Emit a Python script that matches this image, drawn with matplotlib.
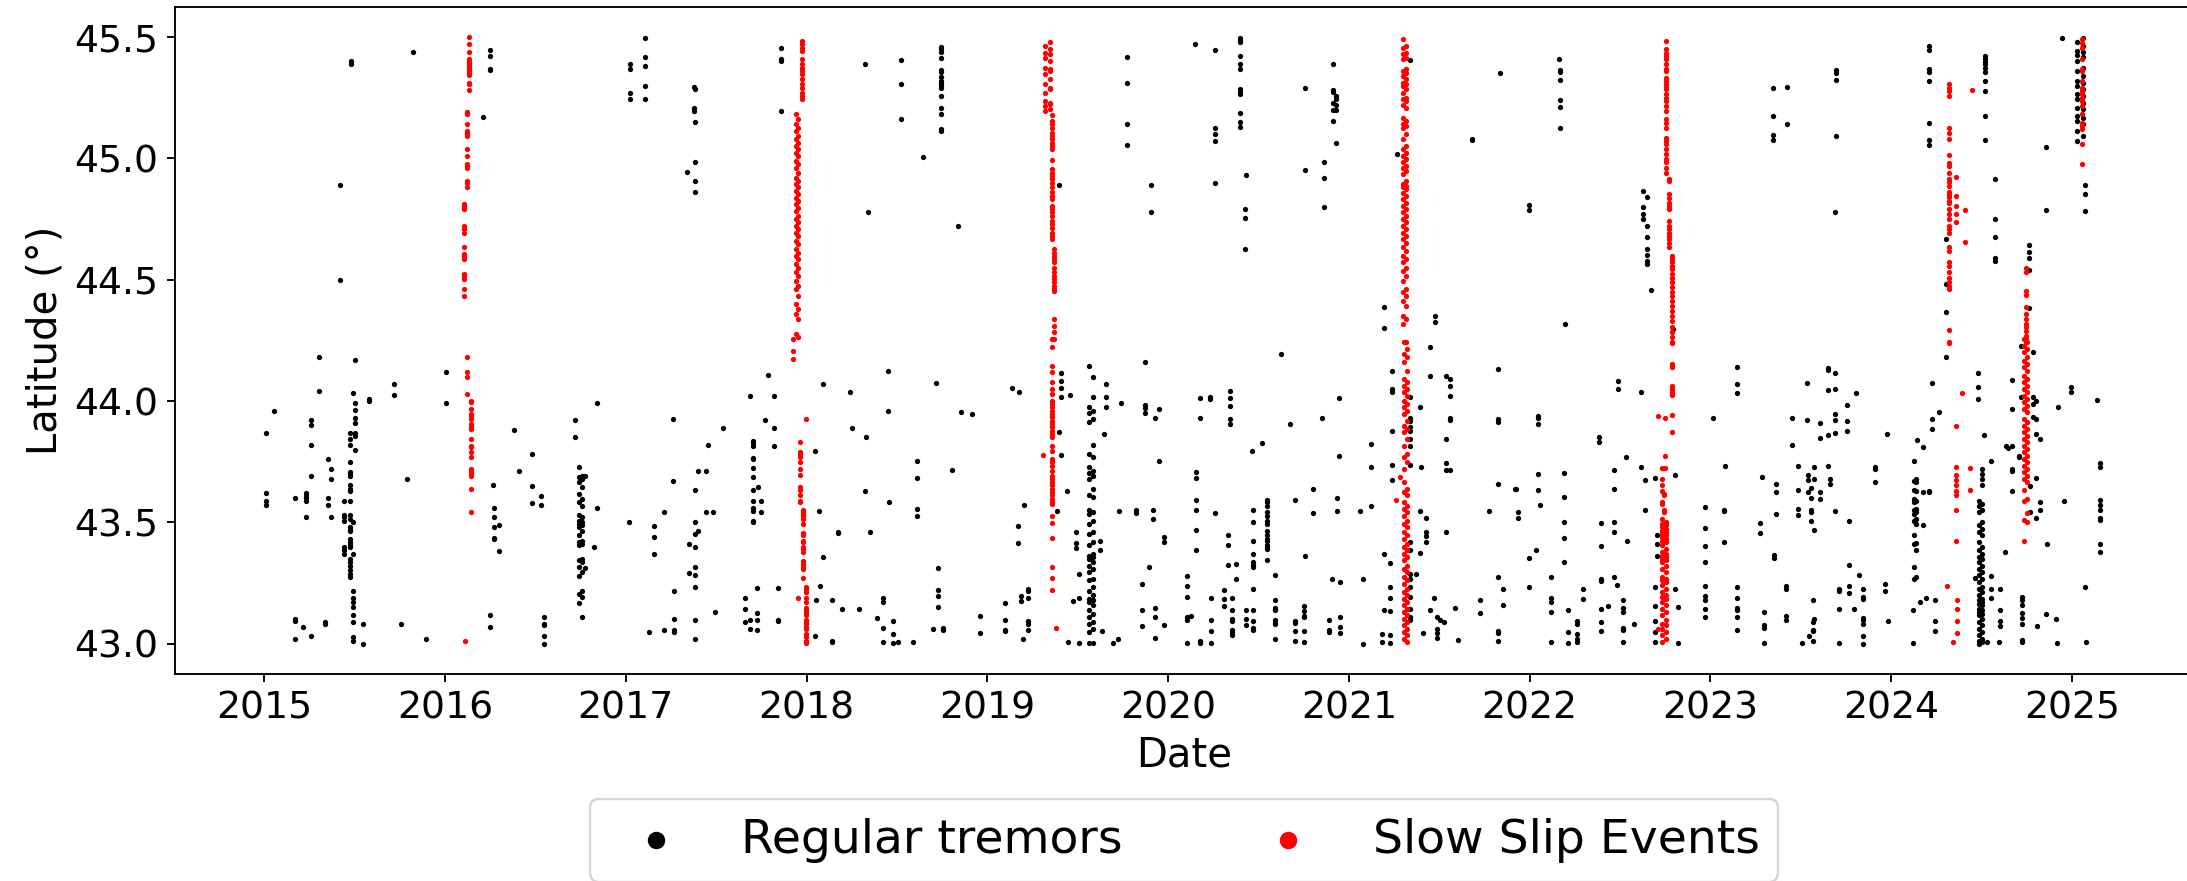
import numpy as np
import matplotlib.pyplot as plt

# tremor catalogue: (decimal year, [latitudes]) per column of events
tremor_2015 = [
    (2015.01, [43.87, 43.62, 43.59, 43.57]),
    (2015.055, [43.96]),
    (2015.17, [43.60, 43.10, 43.095, 43.02]),
    (2015.215, [43.07]),
    (2015.23, [43.62, 43.61, 43.60, 43.59, 43.52]),
    (2015.26, [43.92, 43.90, 43.82, 43.69, 43.03]),
    (2015.30, [44.18, 44.04]),
    (2015.335, [43.09, 43.08]),
    (2015.355, [43.76, 43.60, 43.57]),
    (2015.37, [43.72, 43.68, 43.52]),
    (2015.42, [44.89, 44.50]),
    (2015.44, [43.59, 43.532, 43.521, 43.507, 43.398, 43.384, 43.37]),
    (2015.475, [43.868, 43.844, 43.819, 43.75, 43.706, 43.70, 43.693, 43.652, 43.638, 43.631, 43.59,
                43.532, 43.514, 43.48, 43.473, 43.466, 43.432, 43.418, 43.405, 43.398, 43.35, 43.336,
                43.322, 43.302, 43.288, 43.274]),
    (2015.48, [45.40, 45.39]),
    (2015.49, [44.032, 43.503, 43.37, 43.217, 43.19, 43.17, 43.15, 43.119, 43.089, 43.027, 43.013]),
    (2015.50, [44.168, 43.991, 43.963, 43.93, 43.908, 43.867, 43.857, 43.80]),
    (2015.545, [43.08, 43.0]),
    (2015.577, [44.008, 43.998]),
    (2015.717, [44.07, 44.026]),
    (2015.754, [43.08]),
    (2015.79, [43.68]),
    (2015.82, [45.44]),
    (2015.893, [43.02]),
]
tremor_2016 = [
    (2016.007, [44.12, 43.99]),
    (2016.21, [45.17]),
    (2016.25, [45.445, 45.42, 45.37, 45.365, 43.12, 43.07]),
    (2016.265, [43.655]),
    (2016.27, [43.56, 43.52, 43.48, 43.435, 43.43]),
    (2016.30, [43.49, 43.38]),
    (2016.384, [43.88]),
    (2016.41, [43.71]),
    (2016.48, [43.78, 43.65, 43.58]),
    (2016.53, [43.61, 43.57]),
    (2016.548, [43.11, 43.08, 43.075, 43.03, 43.0]),
    (2016.72, [43.92, 43.85]),
    (2016.74, [43.73, 43.686, 43.665, 43.617, 43.583, 43.531, 43.507, 43.494, 43.48, 43.446, 43.418,
               43.405, 43.343, 43.315, 43.278, 43.206, 43.167]),
    (2016.755, [43.693, 43.679, 43.645, 43.597, 43.569, 43.521, 43.501, 43.487, 43.466, 43.425,
                43.411, 43.35, 43.336, 43.295, 43.217, 43.192, 43.108]),
    (2016.775, [43.69, 43.31]),
    (2016.826, [43.40]),
    (2016.843, [43.99, 43.56]),
]
tremor_2017 = [
    (2017.02, [43.50]),
    (2017.025, [45.387, 45.367, 45.271, 45.246]),
    (2017.107, [45.497, 45.418, 45.381, 45.297, 45.246]),
    (2017.129, [43.05]),
    (2017.155, [43.484, 43.438, 43.368]),
    (2017.214, [43.542, 43.055]),
    (2017.26, [43.925, 43.67]),
    (2017.267, [43.219, 43.10, 43.055, 43.048]),
    (2017.337, [44.944]),
    (2017.352, [43.41, 43.291]),
    (2017.375, [45.295, 45.209, 45.195]),
    (2017.383, [45.284, 45.15, 44.985, 44.907, 44.862]),
    (2017.38, [43.635, 43.503, 43.45, 43.398, 43.317, 43.284, 43.233, 43.099, 43.018]),
    (2017.402, [43.711, 43.466]),
    (2017.446, [43.711, 43.542]),
    (2017.455, [43.82]),
    (2017.48, [43.542]),
    (2017.494, [43.132]),
    (2017.54, [43.889]),
    (2017.658, [43.189, 43.144, 43.09]),
    (2017.686, [44.021, 43.099, 43.062]),
    (2017.706, [43.837, 43.827, 43.814, 43.766, 43.759, 43.724, 43.687, 43.634, 43.586, 43.558,
                43.545, 43.507, 43.501]),
    (2017.726, [43.23, 43.127, 43.099, 43.055]),
    (2017.734, [43.646]),
    (2017.75, [43.587, 43.542]),
    (2017.77, [43.921]),
    (2017.789, [44.107]),
    (2017.82, [44.021, 43.889, 43.815]),
    (2017.843, [43.23, 43.099, 43.092]),
    (2017.859, [45.455, 45.411, 45.40, 45.195]),
]
tremor_2018 = [
    (2018.044, [43.793, 43.033]),
    (2018.053, [43.182]),
    (2018.066, [43.545]),
    (2018.075, [43.237]),
    (2018.093, [44.069, 43.358]),
    (2018.14, [43.182, 43.013, 43.007]),
    (2018.176, [43.462, 43.455]),
    (2018.198, [43.144]),
    (2018.242, [44.037]),
    (2018.25, [43.888]),
    (2018.29, [43.141]),
    (2018.321, [45.387]),
    (2018.323, [43.63]),
    (2018.331, [43.851]),
    (2018.338, [44.779]),
    (2018.351, [43.46]),
    (2018.388, [43.105]),
    (2018.423, [43.188, 43.171, 43.064, 43.005]),
    (2018.45, [44.122, 43.959]),
    (2018.454, [43.584]),
    (2018.478, [43.092, 43.041, 43.001]),
    (2018.505, [43.005]),
    (2018.521, [45.407, 45.308, 45.161]),
    (2018.589, [43.008]),
    (2018.613, [43.752, 43.681, 43.553, 43.528]),
    (2018.646, [45.007]),
    (2018.70, [43.059]),
    (2018.716, [44.073]),
    (2018.725, [43.313, 43.221, 43.196, 43.151]),
    (2018.744, [45.459, 45.449, 45.438, 45.413, 45.364, 45.356, 45.335, 45.319, 45.312, 45.301,
                45.291, 45.257, 45.209, 45.184, 45.12, 45.113]),
    (2018.753, [43.066, 43.055]),
    (2018.805, [43.716]),
    (2018.84, [44.722]),
    (2018.856, [43.954]),
    (2018.917, [43.948]),
    (2018.958, [43.115, 43.044]),
]
tremor_2019 = [
    (2019.096, [43.167, 43.099, 43.057, 43.051]),
    (2019.135, [44.054]),
    (2019.172, [43.483, 43.416]),
    (2019.175, [44.037]),
    (2019.186, [43.197, 43.176]),
    (2019.197, [43.018]),
    (2019.205, [43.573]),
    (2019.223, [43.226, 43.217, 43.189, 43.092, 43.081, 43.055]),
    (2019.384, [43.545]),
    (2019.395, [43.871]),
    (2019.397, [44.889]),
    (2019.406, [44.116, 44.084, 44.054, 44.015, 43.779]),
    (2019.441, [43.63]),
    (2019.445, [43.005]),
    (2019.459, [44.025]),
    (2019.472, [43.174]),
    (2019.49, [43.462, 43.395, 43.414]),
    (2019.507, [43.287, 43.189, 43.002]),
    (2019.56, [44.144, 43.974, 43.951, 43.912, 43.782, 43.727, 43.704, 43.679, 43.611, 43.549, 43.535,
               43.494, 43.453, 43.405, 43.363, 43.35, 43.322, 43.295, 43.261, 43.219, 43.185, 43.171,
               43.137, 43.11, 43.082, 43.048, 43.004]),
    (2019.585, [44.098, 44.018, 43.96, 43.926, 43.819, 43.768, 43.713, 43.693, 43.638, 43.604, 43.542,
                43.507, 43.46, 43.418, 43.37, 43.357, 43.336, 43.309, 43.267, 43.233, 43.199, 43.178,
                43.158, 43.123, 43.089, 43.062, 43.004]),
    (2019.625, [43.425, 43.387]),
    (2019.635, [43.053]),
    (2019.648, [43.863]),
    (2019.655, [44.07, 44.015, 43.977]),
    (2019.694, [43.002]),
    (2019.721, [43.019]),
    (2019.73, [43.547]),
    (2019.742, [43.993]),
    (2019.771, [45.416, 45.312, 45.142, 45.054]),
    (2019.821, [43.55, 43.539]),
    (2019.854, [43.245, 43.137, 43.072]),
    (2019.873, [44.159, 43.984, 43.973, 43.951]),
    (2019.893, [43.318]),
    (2019.908, [44.892, 44.778]),
    (2019.915, [43.551, 43.513]),
    (2019.928, [43.93, 43.149, 43.108, 43.025]),
    (2019.95, [43.966, 43.753]),
    (2019.976, [43.078]),
    (2019.98, [43.44, 43.417]),
]
tremor_2020 = [
    (2020.102, [43.277, 43.237, 43.192, 43.11, 43.096, 43.003]),
    (2020.128, [43.112]),
    (2020.15, [45.47]),
    (2020.155, [43.707, 43.683, 43.594, 43.552, 43.468, 43.386]),
    (2020.179, [44.011, 43.928, 43.01, 43.003]),
    (2020.232, [44.015, 44.008]),
    (2020.235, [43.188, 43.096, 43.051, 43.004]),
    (2020.257, [45.445, 45.127, 45.099, 45.07, 44.898, 43.539]),
    (2020.308, [43.221, 43.185, 43.154]),
    (2020.329, [43.446, 43.405, 43.325]),
    (2020.341, [44.04, 44.011, 43.98, 43.926, 43.906]),
    (2020.356, [43.188, 43.137, 43.1, 43.092, 43.057, 43.048, 43.037]),
    (2020.378, [43.329, 43.265]),
    (2020.399, [45.497, 45.488, 45.479, 45.422, 45.387, 45.367, 45.284, 45.275, 45.267, 45.188,
                45.15, 45.131]),
    (2020.426, [44.792, 44.755, 44.626]),
    (2020.43, [44.93, 43.14, 43.103, 43.078]),
    (2020.463, [43.794]),
    (2020.467, [43.549, 43.501, 43.422, 43.37, 43.336, 43.325, 43.315, 43.226, 43.14, 43.092, 43.064,
                43.055]),
    (2020.519, [43.826]),
    (2020.548, [43.591, 43.583, 43.569, 43.542, 43.528, 43.507, 43.494, 43.466, 43.446, 43.432,
                43.425, 43.405, 43.398, 43.391, 43.343]),
    (2020.589, [43.281, 43.178, 43.147, 43.137, 43.141, 43.096, 43.082, 43.086, 43.018]),
    (2020.622, [44.194]),
    (2020.672, [43.904]),
    (2020.70, [43.594, 43.092, 43.085, 43.051, 43.011]),
    (2020.75, [43.155, 43.133, 43.112, 43.109, 43.051, 43.005]),
    (2020.756, [45.29, 44.951]),
    (2020.76, [43.362]),
    (2020.802, [43.637, 43.539]),
    (2020.852, [43.93]),
    (2020.862, [44.987, 44.921, 44.801]),
    (2020.889, [43.096, 43.057, 43.048]),
    (2020.906, [43.267]),
    (2020.911, [45.39, 45.282, 45.273, 45.227, 45.198, 45.154]),
    (2020.93, [45.257, 45.243, 45.219, 45.198, 45.062]),
    (2020.934, [43.602, 43.547]),
    (2020.948, [44.013, 43.775]),
    (2020.95, [43.254, 43.11, 43.067, 43.042]),
]
tremor_2021 = [
    (2021.063, [43.546]),
    (2021.076, [43.267, 43.0]),
    (2021.12, [43.822, 43.727, 43.569]),
    (2021.186, [43.04, 43.005]),
    (2021.194, [43.37, 43.137]),
    (2021.197, [44.386, 44.299]),
    (2021.227, [43.332, 43.232, 43.189, 43.133, 43.034, 43.003]),
    (2021.236, [44.125, 44.05, 44.036, 43.878, 43.738, 43.675]),
    (2021.265, [45.02]),
    (2021.34, [45.407, 44.015, 43.929, 43.919, 43.892, 43.878, 43.844, 43.816, 43.737, 43.418, 43.384,
               43.288, 43.267, 43.233, 43.192, 43.144, 43.11, 43.099]),
    (2021.374, [43.287]),
    (2021.396, [43.974, 43.545, 43.375]),
    (2021.40, [43.727]),
    (2021.409, [43.044]),
    (2021.428, [43.518, 43.462, 43.442, 43.418]),
    (2021.448, [43.137]),
    (2021.45, [44.221, 44.105]),
    (2021.47, [43.188]),
    (2021.479, [44.349, 44.327]),
    (2021.485, [43.11, 43.062, 43.044, 43.023]),
    (2021.505, [43.096]),
    (2021.524, [43.088]),
    (2021.54, [44.102, 43.844, 43.745, 43.716, 43.462]),
    (2021.562, [44.091, 44.063, 44.02, 43.93, 43.923, 43.716]),
    (2021.585, [43.147]),
    (2021.605, [43.015]),
    (2021.679, [45.081, 45.076]),
    (2021.723, [43.178, 43.126]),
    (2021.776, [43.545]),
    (2021.826, [44.132, 43.926, 43.912, 43.656, 43.274, 43.053, 43.045, 43.012]),
    (2021.835, [45.353]),
    (2021.855, [43.226, 43.158]),
    (2021.917, [43.638]),
    (2021.923, [43.637]),
    (2021.933, [43.542, 43.519]),
    (2021.997, [43.354, 43.233]),
    (2021.999, [44.806, 44.789]),
]
tremor_2022 = [
    (2022.038, [43.387]),
    (2022.045, [43.937, 43.93, 43.906, 43.7, 43.635]),
    (2022.06, [43.571]),
    (2022.12, [43.274, 43.188, 43.171, 43.132, 43.005]),
    (2022.163, [45.411]),
    (2022.167, [45.363, 45.356, 45.322, 45.239, 45.212, 45.125]),
    (2022.19, [43.702, 43.604, 43.5, 43.436, 43.335]),
    (2022.196, [44.318]),
    (2022.215, [43.138, 43.048, 43.004]),
    (2022.26, [43.092, 43.082, 43.038, 43.02, 43.008]),
    (2022.294, [43.225, 43.186]),
    (2022.383, [43.853, 43.833]),
    (2022.394, [43.497, 43.403, 43.267, 43.258, 43.144, 43.09, 43.053]),
    (2022.432, [43.156]),
    (2022.466, [43.716, 43.639, 43.502, 43.461, 43.276]),
    (2022.484, [43.243]),
    (2022.491, [44.081, 44.051]),
    (2022.519, [43.181, 43.149, 43.129, 43.066, 43.057, 43.008]),
    (2022.536, [43.771]),
    (2022.538, [43.425]),
    (2022.578, [43.081]),
    (2022.615, [44.037, 43.727]),
    (2022.63, [44.866, 44.8, 44.77, 44.752]),
    (2022.639, [43.676, 43.549]),
    (2022.65, [44.84, 44.722, 44.675, 44.626, 44.601, 44.578, 44.563]),
    (2022.674, [44.457]),
    (2022.695, [43.682, 43.232, 43.156, 43.095, 43.05, 43.005]),
    (2022.705, [43.446, 43.409, 43.361]),
    (2022.792, [44.296]),
    (2022.803, [43.694, 43.225]),
    (2022.82, [43.152, 43.002]),
    (2022.969, [43.562, 43.475, 43.403, 43.336, 43.239, 43.195, 43.178, 43.144, 43.108]),
]
tremor_2023 = [
    (2023.013, [43.928]),
    (2023.074, [43.551, 43.545, 43.418]),
    (2023.081, [43.733]),
    (2023.15, [44.142, 44.07, 44.032, 43.232, 43.188, 43.149, 43.137, 43.11, 43.057]),
    (2023.277, [43.497, 43.456]),
    (2023.286, [43.687]),
    (2023.294, [43.13, 43.075, 43.063, 43.004]),
    (2023.347, [45.29, 45.173, 45.098, 45.075]),
    (2023.353, [43.366, 43.354]),
    (2023.362, [43.657, 43.627, 43.535]),
    (2023.419, [43.239, 43.226, 43.112, 43.099]),
    (2023.426, [45.293, 45.142]),
    (2023.45, [43.93, 43.819]),
    (2023.485, [43.733, 43.635, 43.556, 43.531]),
    (2023.508, [43.004]),
    (2023.535, [44.076, 43.923]),
    (2023.539, [43.696, 43.675, 43.627]),
    (2023.545, [43.031]),
    (2023.556, [43.641, 43.6, 43.551, 43.542, 43.506]),
    (2023.566, [43.181, 43.088, 43.057, 43.051, 43.009]),
    (2023.574, [43.727, 43.68, 43.469, 43.103]),
    (2023.609, [43.911, 43.849, 43.626, 43.598]),
    (2023.648, [44.135, 44.128, 44.044, 43.86, 43.734]),
    (2023.66, [43.679, 43.659]),
    (2023.687, [44.781, 44.116, 44.051, 43.948, 43.921, 43.867, 43.547]),
    (2023.696, [45.363, 45.353, 45.323, 45.092]),
    (2023.709, [43.224, 43.217, 43.141, 43.004]),
    (2023.755, [43.982, 43.917, 43.875]),
    (2023.766, [43.505, 43.325, 43.237, 43.208]),
    (2023.792, [43.144]),
    (2023.803, [44.032]),
    (2023.822, [43.284]),
    (2023.842, [43.226, 43.192, 43.185, 43.107, 43.096, 43.082, 43.031, 42.998]),
    (2023.912, [43.73, 43.718, 43.668]),
    (2023.966, [43.244, 43.217]),
    (2023.975, [43.863]),
    (2023.984, [43.092]),
]
tremor_2024 = [
    (2024.119, [43.137, 43.002]),
    (2024.125, [43.752, 43.672, 43.635, 43.597, 43.583, 43.549, 43.535, 43.507, 43.446, 43.412,
                43.316, 43.267]),
    (2024.14, [43.679, 43.665, 43.631, 43.59, 43.556, 43.542, 43.514, 43.494, 43.414, 43.388, 43.274]),
    (2024.144, [43.84]),
    (2024.157, [43.171]),
    (2024.176, [43.81, 43.624, 43.491]),
    (2024.194, [43.188]),
    (2024.207, [45.463, 45.446, 45.367, 45.357, 45.317, 45.144, 45.075, 45.057, 43.631, 43.624]),
    (2024.224, [44.073, 43.925, 43.885]),
    (2024.24, [43.181, 43.092, 43.051]),
    (2024.266, [43.956]),
    (2024.301, [44.667, 44.482, 44.365, 44.183]),
    (2024.463, [43.27]),
    (2024.478, [44.114, 44.059, 44.008]),
    (2024.485, [43.586, 43.569, 43.542, 43.487, 43.46, 43.418, 43.384, 43.357, 43.336, 43.309, 43.281,
                43.254, 43.226, 43.199, 43.178, 43.165, 43.144, 43.13, 43.117, 43.089, 43.062, 43.034,
                43.013, 43.0]),
    (2024.50, [43.718, 43.7, 43.679, 43.652, 43.576, 43.549, 43.501, 43.473, 43.446, 43.398, 43.37,
               43.35, 43.322, 43.295, 43.267, 43.233, 43.213, 43.185, 43.171, 43.158, 43.137, 43.123,
               43.103, 43.075, 43.048, 43.02, 43.007]),
    (2024.515, [43.86]),
    (2024.517, [45.422, 45.408, 45.397, 45.387, 45.374, 45.356, 45.319, 45.278, 45.175, 45.076]),
    (2024.528, [43.005]),
    (2024.55, [43.752, 43.278, 43.226, 43.188]),
    (2024.577, [44.914, 44.752, 44.675, 44.591, 44.578]),
    (2024.596, [43.008]),
    (2024.605, [43.226, 43.14, 43.092, 43.073]),
    (2024.628, [43.377]),
    (2024.637, [43.816]),
    (2024.645, [43.807]),
    (2024.668, [44.087, 43.967, 43.816, 43.718, 43.713, 43.631]),
    (2024.705, [43.775, 43.768]),
    (2024.718, [44.228, 44.015]),
    (2024.724, [43.192, 43.178, 43.158, 43.127, 43.105, 43.082, 43.016, 43.007]),
    (2024.76, [44.645, 44.616, 44.59, 44.541, 44.384]),
    (2024.77, [43.649, 43.542]),
    (2024.784, [44.201, 44.015, 43.988, 43.933]),
    (2024.80, [44.002, 43.926, 43.864, 43.682, 43.519]),
    (2024.806, [43.072]),
    (2024.825, [43.844, 43.583, 43.551]),
    (2024.858, [45.047, 44.788, 43.122]),
    (2024.86, [43.409]),
    (2024.91, [43.101]),
    (2024.919, [43.002]),
    (2024.925, [43.974]),
    (2024.945, [45.497]),
    (2024.954, [43.587]),
    (2024.996, [44.056, 44.036]),
]
tremor_2025 = [
    (2025.03, [45.479, 45.442, 45.424, 45.401, 45.36, 45.319, 45.298, 45.267, 45.243, 45.209, 45.175,
               45.154, 45.113, 45.072]),
    (2025.06, [45.497, 45.463, 45.44, 45.418, 45.374, 45.339, 45.312, 45.284, 45.257, 45.23, 45.202,
               45.168, 45.14, 45.092]),
    (2025.07, [44.891, 44.852, 44.782]),
    (2025.074, [43.233]),
    (2025.078, [43.005]),
    (2025.137, [44.004]),
    (2025.157, [43.745, 43.727, 43.594, 43.572, 43.551, 43.519, 43.508, 43.409, 43.377]),
]

# slow slip episodes
sse_2016 = [
    (2016.13, [45.501, 45.47, 45.438, 45.408, 45.401, 45.394, 45.387, 45.381, 45.374, 45.367, 45.36,
               45.35, 45.342, 45.312, 45.305, 45.282]),
    (2016.12, [45.192, 45.188, 45.182, 45.14, 45.113, 45.106, 45.099, 45.092, 45.037, 45.01, 44.976,
               44.969, 44.962, 44.907, 44.90, 44.88, 44.18, 44.118, 44.10, 44.029]),
    (2016.105, [44.811, 44.804, 44.797, 44.79, 44.722, 44.708, 44.694, 44.633, 44.605, 44.598, 44.591,
                44.585, 44.523, 44.516, 44.502, 44.461, 44.431]),
    (2016.145, [44.0, 43.995, 43.967, 43.947, 43.937, 43.926, 43.906, 43.892, 43.885, 43.844, 43.816,
                43.81, 43.789, 43.768, 43.72, 43.713, 43.70, 43.693, 43.638, 43.542]),
    (2016.11, [43.01]),
]
sse_2017 = [
    (2017.975, [45.483, 45.47, 45.456, 45.442, 45.408, 45.387, 45.374, 45.36, 45.346, 45.326, 45.305,
                45.291, 45.271, 45.257, 45.246]),
    (2017.94, [45.182, 45.14, 45.113, 45.079, 45.051, 45.024, 44.989, 44.962, 44.921, 44.893, 44.866,
               44.838, 44.811, 44.784, 44.749, 44.722, 44.694, 44.66, 44.626, 44.598, 44.564, 44.53,
               44.495, 44.461, 44.399, 44.358, 44.276]),
    (2017.955, [45.161, 45.127, 45.092, 45.065, 45.037, 45.01, 44.976, 44.941, 44.907, 44.88, 44.852,
                44.825, 44.797, 44.763, 44.736, 44.708, 44.681, 44.646, 44.612, 44.585, 44.55, 44.516,
                44.475, 44.434, 44.379, 44.338, 44.262]),
    (2017.927, [44.2555, 44.207, 44.173]),
    (2017.997, [43.926]),
    (2017.965, [43.833, 43.79, 43.78, 43.768, 43.75, 43.718, 43.696, 43.645, 43.634, 43.611, 43.59,
                43.583]),
    (2017.978, [43.549, 43.542, 43.535, 43.528, 43.514, 43.494, 43.457, 43.446, 43.425, 43.418, 43.398,
                43.391, 43.377, 43.339, 43.329, 43.315, 43.308, 43.27]),
    (2017.995, [43.233, 43.226, 43.212, 43.188, 43.171, 43.147, 43.137, 43.13, 43.12, 43.096, 43.089,
                43.082, 43.068, 43.061, 43.041, 43.027, 43.013, 43.004]),
    (2017.955, [43.189]),
]
sse_2019 = [
    (2019.32, [45.463, 45.435, 45.415, 45.374, 45.346, 45.305, 45.271, 45.236, 45.216, 45.195]),
    (2019.345, [45.479, 45.449, 45.429, 45.401, 45.367, 45.36, 45.326, 45.291, 45.284, 45.23, 45.223,
                45.202]),
    (2019.36, [45.177, 45.154, 45.14, 45.127, 45.106, 45.092, 45.079, 45.065, 45.051, 45.037, 44.994,
               44.955, 44.941, 44.928, 44.914, 44.9, 44.88, 44.862, 44.845, 44.832, 44.804, 44.79,
               44.777, 44.763, 44.742, 44.729, 44.715, 44.694, 44.681, 44.667]),
    (2019.37, [44.626, 44.612, 44.598, 44.585, 44.571, 44.55, 44.53, 44.516, 44.502, 44.489, 44.475,
               44.461, 44.454, 44.34, 44.31, 44.283, 44.255]),
    (2019.355, [44.256, 44.221, 44.146, 44.118, 44.077, 44.05, 44.029, 44.002, 43.995, 43.988, 43.974,
                43.96, 43.947, 43.933, 43.919, 43.906, 43.892, 43.878, 43.864, 43.851, 43.816, 43.796,
                43.761, 43.748, 43.734, 43.713, 43.693, 43.679, 43.665, 43.652, 43.638, 43.624,
                43.611, 43.597, 43.583, 43.576, 43.528, 43.497, 43.435, 43.318, 43.27, 43.222]),
    (2019.31, [43.778]),
    (2019.38, [43.064]),
]
sse_2021 = [
    (2021.30, [45.493, 45.456, 45.429, 45.408, 45.36, 45.339, 45.312, 45.298, 45.271, 45.243, 45.219,
               45.168, 45.14, 45.127, 45.079, 45.037, 45.01, 44.983, 44.962, 44.935, 44.893, 44.88,
               44.859, 44.832, 44.804, 44.777, 44.749, 44.722, 44.694, 44.667, 44.633, 44.598, 44.571,
               44.537, 44.495, 44.448, 44.413, 44.351, 44.317]),
    (2021.315, [45.463, 45.435, 45.415, 45.367, 45.353, 45.326, 45.305, 45.284, 45.25, 45.236, 45.209,
                45.154, 45.134, 45.099, 45.051, 45.024, 44.996, 44.969, 44.948, 44.907, 44.887, 44.873,
                44.845, 44.818, 44.79, 44.763, 44.736, 44.708, 44.681, 44.653, 44.619, 44.585, 44.55,
                44.516, 44.461, 44.434, 44.392, 44.338, 44.242]),
    (2021.305, [44.242, 44.194, 44.159, 44.091, 44.063, 44.036, 44.002, 43.974, 43.947, 43.899, 43.871,
                43.816, 43.768, 43.72, 43.665, 43.624, 43.583, 43.556, 43.528, 43.494, 43.46, 43.432,
                43.398, 43.37, 43.343, 43.309, 43.274, 43.247, 43.213, 43.185, 43.158, 43.13, 43.103,
                43.075, 43.048, 43.02]),
    (2021.32, [44.214, 44.18, 44.125, 44.077, 44.05, 44.022, 43.988, 43.96, 43.919, 43.885, 43.844,
               43.782, 43.748, 43.638, 43.611, 43.569, 43.542, 43.507, 43.48, 43.446, 43.412, 43.384,
               43.357, 43.322, 43.295, 43.261, 43.226, 43.199, 43.171, 43.144, 43.117, 43.089, 43.062,
               43.034, 43.007]),
    (2021.285, [43.686]),
    (2021.26, [43.591]),
]
sse_2022 = [
    (2022.755, [45.483, 45.449, 45.435, 45.422, 45.408, 45.387, 45.367, 45.36, 45.333, 45.319, 45.305,
                45.295, 45.284, 45.264, 45.25, 45.236, 45.216, 45.195, 45.161, 45.147, 45.127, 45.085,
                45.072, 45.058, 45.037, 45.017, 44.996, 44.983, 44.962, 44.941]),
    (2022.77, [44.914, 44.907, 44.852, 44.838, 44.818, 44.804, 44.79, 44.742, 44.722, 44.708, 44.694,
               44.681, 44.667, 44.653, 44.633]),
    (2022.785, [44.598, 44.585, 44.571, 44.557, 44.543, 44.523, 44.509, 44.489, 44.468, 44.448, 44.434,
                44.413, 44.392, 44.372, 44.351, 44.331, 44.303, 44.283, 44.262, 44.242, 44.239, 44.153,
                44.146, 44.139, 44.063, 44.05, 44.036, 44.025, 43.944, 43.871]),
    (2022.709, [43.937]),
    (2022.75, [43.93, 43.772, 43.726]),
    (2022.735, [43.726, 43.679, 43.652, 43.631, 43.583, 43.576]),
    (2022.745, [43.617, 43.611, 43.549, 43.542]),
    (2022.73, [43.514, 43.494, 43.48, 43.466, 43.453, 43.439, 43.425, 43.405, 43.377, 43.363, 43.35,
               43.336, 43.309, 43.274, 43.261, 43.24, 43.213, 43.192, 43.171, 43.144, 43.117, 43.082,
               43.062, 43.034, 43.007]),
    (2022.757, [43.503, 43.487, 43.473, 43.46, 43.446, 43.432, 43.418, 43.391, 43.37, 43.357, 43.343,
                43.322, 43.295, 43.267, 43.254, 43.226, 43.199, 43.185, 43.158, 43.13, 43.096, 43.075,
                43.048, 43.02]),
    (2022.71, [43.062]),
]
sse_2024 = [
    (2024.32, [45.305, 45.291, 45.278, 45.257, 45.127, 45.106, 45.079, 45.014, 44.98, 44.969, 44.941,
               44.914, 44.903, 44.887, 44.862, 44.854, 44.841, 44.825, 44.815, 44.79, 44.77, 44.749,
               44.722, 44.708, 44.694, 44.633, 44.619, 44.571, 44.557, 44.53, 44.509, 44.489, 44.475,
               44.461, 44.294, 44.242, 44.238]),
    (2024.447, [45.282]),
    (2024.358, [44.925, 44.843, 44.804, 44.77, 44.738, 43.896, 43.73, 43.696, 43.675, 43.652, 43.631,
                43.611, 43.551, 43.422]),
    (2024.41, [44.788]),
    (2024.407, [44.656]),
    (2024.392, [44.032]),
    (2024.436, [43.724, 43.635]),
    (2024.31, [43.237]),
    (2024.362, [43.178, 43.141, 43.093, 43.046]),
    (2024.34, [43.008]),
    (2024.745, [44.55, 44.53, 44.454, 44.436, 44.386, 44.358, 44.338, 44.317, 44.303, 44.29, 44.269,
                44.255, 44.242]),
    (2024.735, [44.256, 44.228, 44.201, 44.166, 44.139, 44.105, 44.077, 44.05, 44.022, 43.995, 43.967,
                43.926, 43.899, 43.871, 43.844, 43.816, 43.789, 43.761, 43.734, 43.707, 43.679, 43.635,
                43.59, 43.508, 43.425]),
    (2024.75, [44.242, 44.214, 44.18, 44.153, 44.125, 44.091, 44.063, 44.036, 44.008, 43.981, 43.954,
               43.912, 43.885, 43.857, 43.83, 43.803, 43.775, 43.748, 43.72, 43.693, 43.665, 43.597,
               43.538, 43.501]),
]
sse_2025 = [
    (2025.055, [45.49, 45.477, 45.456, 45.408, 45.367, 45.36, 45.319, 45.291, 45.278, 45.264, 45.25,
                45.236, 45.216, 45.182, 45.147, 45.134, 45.12, 45.058, 44.976]),
]


def flatten(*groups):
    # columns of (year, [lats]) -> flat x / y arrays
    xs, ys = [], []
    for group in groups:
        for t, lats in group:
            xs += [t] * len(lats)
            ys += lats
    return np.array(xs), np.array(ys)


reg_t, reg_lat = flatten(tremor_2015, tremor_2016, tremor_2017, tremor_2018, tremor_2019, tremor_2020,
                         tremor_2021, tremor_2022, tremor_2023, tremor_2024, tremor_2025)
sse_t, sse_lat = flatten(sse_2016, sse_2017, sse_2019, sse_2021, sse_2022, sse_2024, sse_2025)

W, H, DPI = 2187, 881, 170
fig = plt.figure(figsize=(W / DPI, H / DPI), dpi=DPI)
# axes run slightly past the right edge, as in the cropped original
ax = fig.add_axes([175 / W, 1 - 674 / H, (2193 - 175) / W, (674 - 6.7) / H])

ax.scatter(reg_t, reg_lat, s=5, c='black', linewidths=0, label='Regular tremors')
ax.scatter(sse_t, sse_lat, s=5, c='red', linewidths=0, label='Slow Slip Events')

ax.set_xlim(2014.506, 2025.67)
ax.set_ylim(42.875, 45.625)
ax.set_xticks(range(2015, 2026))
ax.set_xticklabels([str(y) for y in range(2015, 2026)])
ax.set_yticks([43.0, 43.5, 44.0, 44.5, 45.0, 45.5])
ax.tick_params(labelsize=16)
ax.set_xlabel('Date', fontsize=17)
ax.set_ylabel('Latitude (°)', fontsize=17)

ax.legend(loc='upper center', bbox_to_anchor=(0.5, -0.187), ncol=2, fontsize=20,
          markerscale=3.3, borderaxespad=0, columnspacing=2.5)

fig.savefig('out.png', dpi=DPI)
